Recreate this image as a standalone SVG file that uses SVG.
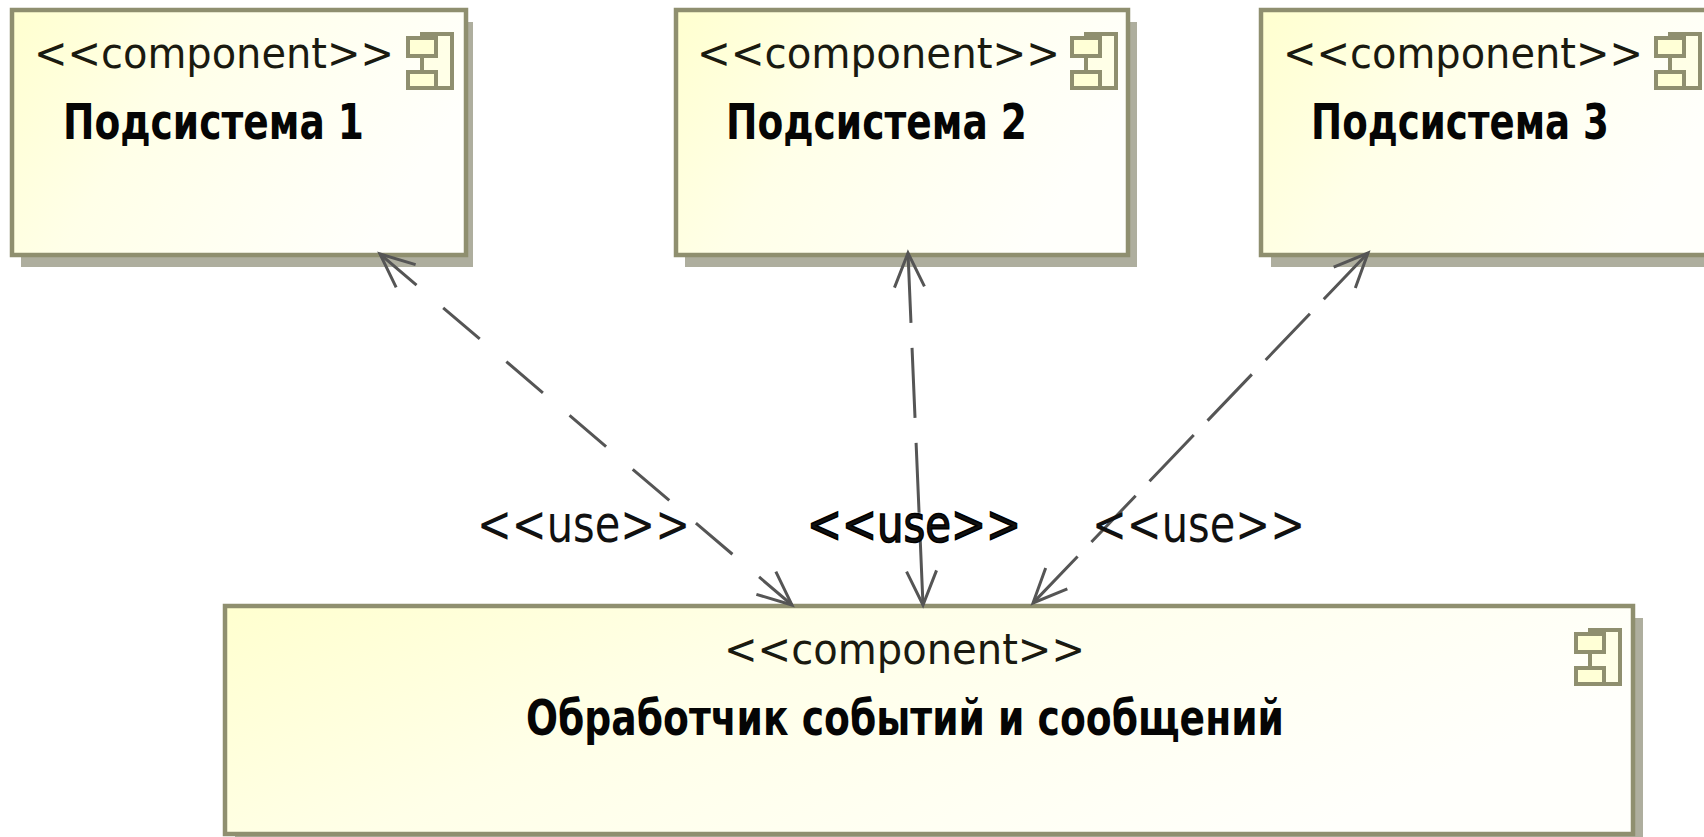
<svg xmlns="http://www.w3.org/2000/svg" xmlns:xlink="http://www.w3.org/1999/xlink" width="1704" height="837" viewBox="0 0 1704 837">
<style>
.box{fill:url(#boxFill);stroke:#8f8f6f;stroke-width:4.5}
.shadow{fill:#aeae9e}
.ico{fill:#ffffd6;stroke:#8f8f6f;stroke-width:4}
.ster{font-family:"DejaVu Sans",sans-serif;font-size:43px;fill:#1a1a10}
.name{font-family:"DejaVu Sans",sans-serif;font-size:49px;font-weight:700;fill:#050505}
.use{font-family:"DejaVu Sans",sans-serif;font-size:52px;fill:#111}
.heavy{stroke:#000;stroke-width:1.6}
.conn{fill:none;stroke:#555;stroke-width:3;marker-start:url(#open);marker-end:url(#open)}
.head{fill:none;stroke:#555;stroke-width:3}
</style>
<defs>
<linearGradient id="boxFill" x1="0" y1="0" x2="1" y2="0.35">
<stop offset="0" stop-color="#ffffcf"/>
<stop offset="0.4" stop-color="#ffffe8"/>
<stop offset="1" stop-color="#fffffb"/>
</linearGradient>
<marker id="open" markerUnits="userSpaceOnUse" markerWidth="80" markerHeight="80" refX="40" refY="40" orient="auto-start-reverse" viewBox="0 0 80 80" overflow="visible">
<path class="head" d="M6,25 L40,40 L6,55"/>
</marker>
<g id="icon">
<rect class="ico" x="422" y="34" width="30" height="54" fill-opacity="0.5"/>
<rect class="ico" x="408" y="38" width="28" height="18"/>
<rect class="ico" x="408" y="72" width="28" height="16"/>
<line class="ico" x1="422" y1="56" x2="422" y2="72"/>
</g>
</defs>
<g id="node-1">
<rect class="shadow" x="21" y="22" width="452" height="245"/>
<rect class="box" x="12" y="10" width="454" height="245"/>
<use href="#icon" xlink:href="#icon"/>
<text class="ster" x="34" y="68" textLength="360" lengthAdjust="spacingAndGlyphs">&lt;&lt;component&gt;&gt;</text>
<text class="name" x="63" y="139" textLength="301" lengthAdjust="spacingAndGlyphs">Подсистема 1</text>
</g>
<g id="node-2">
<rect class="shadow" x="685" y="22" width="452" height="245"/>
<rect class="box" x="676" y="10" width="452" height="245"/>
<use href="#icon" xlink:href="#icon" x="664"/>
<text class="ster" x="697" y="68" textLength="363" lengthAdjust="spacingAndGlyphs">&lt;&lt;component&gt;&gt;</text>
<text class="name" x="726" y="139" textLength="301" lengthAdjust="spacingAndGlyphs">Подсистема 2</text>
</g>
<g id="node-3">
<rect class="shadow" x="1271" y="22" width="460" height="245"/>
<rect class="box" x="1261" y="10" width="460" height="245"/>
<use href="#icon" xlink:href="#icon" x="1248"/>
<text class="ster" x="1283" y="68" textLength="360" lengthAdjust="spacingAndGlyphs">&lt;&lt;component&gt;&gt;</text>
<text class="name" x="1311" y="139" textLength="298" lengthAdjust="spacingAndGlyphs">Подсистема 3</text>
</g>
<g id="node-4">
<rect class="shadow" x="235" y="618" width="1408" height="225"/>
<rect class="box" x="225" y="606" width="1408" height="228"/>
<use href="#icon" xlink:href="#icon" x="1168" y="596"/>
<text class="ster" x="724" y="664" textLength="361" lengthAdjust="spacingAndGlyphs">&lt;&lt;component&gt;&gt;</text>
<text class="name" x="526" y="735" textLength="758" lengthAdjust="spacingAndGlyphs">Обработчик событий и сообщений</text>
</g>
<g id="connectors">
<line class="conn" x1="380" y1="254" x2="792" y2="605" stroke-dasharray="48 35"/>
<line class="conn" x1="908" y1="253" x2="923" y2="605" stroke-dasharray="70 25"/>
<line class="conn" x1="1368" y1="253" x2="1033" y2="603" stroke-dasharray="64 20"/>
</g>
<g id="connector-labels">
<text class="use" x="477" y="542" textLength="213" lengthAdjust="spacingAndGlyphs">&lt;&lt;use&gt;&gt;</text>
<text class="use heavy" x="807" y="542" textLength="214" lengthAdjust="spacingAndGlyphs">&lt;&lt;use&gt;&gt;</text>
<text class="use" x="1092" y="542" textLength="213" lengthAdjust="spacingAndGlyphs">&lt;&lt;use&gt;&gt;</text>
</g>
</svg>
